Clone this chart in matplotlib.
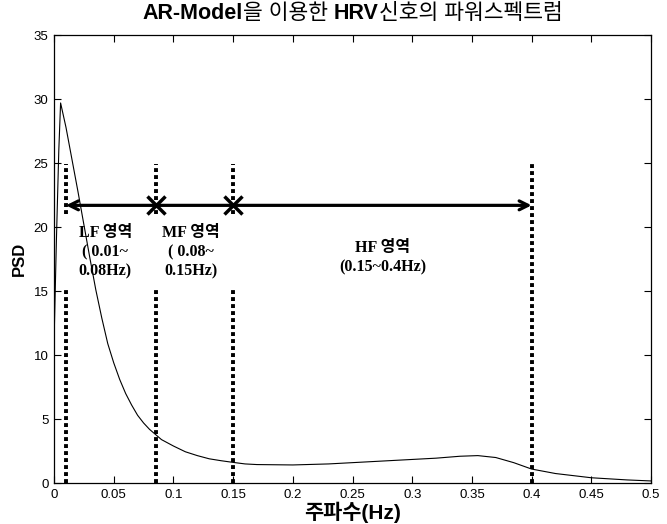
import matplotlib
matplotlib.use("Agg")
import matplotlib.pyplot as plt

# ---- data ----
freq = [0.0, 0.002, 0.004, 0.0055, 0.010, 0.015, 0.020, 0.025, 0.030, 0.035, 0.040,
        0.045, 0.050, 0.055, 0.060, 0.065, 0.070, 0.075, 0.080, 0.085, 0.090,
        0.100, 0.110, 0.120, 0.130, 0.140, 0.150, 0.160, 0.170, 0.200, 0.230,
        0.250, 0.280, 0.300, 0.320, 0.340, 0.355, 0.370, 0.385, 0.400, 0.420,
        0.450, 0.480, 0.500]
psd = [11.0, 19.0, 26.0, 29.7, 27.8, 25.3, 22.8, 20.2, 17.6, 15.1, 12.9,
       10.9, 9.4, 8.1, 7.0, 6.1, 5.3, 4.7, 4.2, 3.8, 3.4,
       2.9, 2.45, 2.15, 1.9, 1.75, 1.62, 1.5, 1.45, 1.42, 1.5,
       1.6, 1.75, 1.85, 1.95, 2.1, 2.15, 2.0, 1.6, 1.1, 0.75,
       0.42, 0.25, 0.17]

band_edges = [0.01, 0.085, 0.15, 0.4]
band_labels = ["LF 영역\n( 0.01~\n0.08Hz)", "MF 영역\n( 0.08~\n0.15Hz)", "HF 영역\n(0.15~0.4Hz)"]
xticks = [0, 0.05, 0.1, 0.15, 0.2, 0.25, 0.3, 0.35, 0.4, 0.45, 0.5]
xticklabels = ["0", "0.05", "0.1", "0.15", "0.2", "0.25", "0.3", "0.35", "0.4", "0.45", "0.5"]
yticks = [0, 5, 10, 15, 20, 25, 30, 35]
title_parts = [("AR-Model", "bold"), ("을 이용한 ", "normal"), ("HRV", "bold"),
               ("신호의 파워스펙트럼", "normal")]

sans = ["Liberation Sans", "Noto Sans CJK KR"]
serif = ["Liberation Serif", "Noto Sans CJK KR"]

fig = plt.figure(figsize=(6.67, 5.24), dpi=100)
ax = fig.add_axes([0.081, 0.078, 0.895, 0.855])

ax.plot(freq, psd, color="black", lw=0.8)

arrow_y = 21.7
top_y = 24.9
gap_lo, gap_hi = 15.3, 21.0
dot_kw = dict(color="black", lw=2.8, linestyle=(0, (1, 0.8)))
for i, xe in enumerate(band_edges):
    if i < 3:
        ax.plot([xe, xe], [0, gap_lo], **dot_kw)
        ax.plot([xe, xe], [gap_hi, top_y], **dot_kw)
    else:
        ax.plot([xe, xe], [0, top_y], **dot_kw)

ax.annotate("", xy=(band_edges[0], arrow_y), xytext=(band_edges[3], arrow_y),
            arrowprops=dict(arrowstyle="<->", lw=2.3, color="black", mutation_scale=16,
                            shrinkA=0, shrinkB=0))
ax.plot(band_edges[1:3], [arrow_y, arrow_y], "x", color="black", ms=13, mew=2.5)

lab_kw = dict(ha="center", va="top", family=serif, fontweight="bold", fontsize=11.5,
              linespacing=1.3)
ax.text(0.043, 20.2, band_labels[0], **lab_kw)
ax.text(0.115, 20.2, band_labels[1], **lab_kw)
ax.text(0.275, 19.0, band_labels[2], **lab_kw)

ax.set_xlim(0, 0.5)
ax.set_ylim(0, 35)
ax.set_xticks(xticks)
ax.set_xticklabels(xticklabels)
ax.set_yticks(yticks)
ax.tick_params(direction="in", length=5, width=0.8, top=True, right=True,
               labelsize=9.5, pad=4)
for lab in ax.get_xticklabels() + ax.get_yticklabels():
    lab.set_family(sans)
for s in ax.spines.values():
    s.set_linewidth(0.9)

ax.set_xlabel("주파수(Hz)", family=sans, fontweight="bold", fontsize=15, labelpad=1)
ax.set_ylabel("PSD", family=sans, fontweight="bold", fontsize=12, labelpad=5)

# title built from pieces with mixed weights
fig.canvas.draw()
renderer = fig.canvas.get_renderer()
texts = []
for s, w in title_parts:
    t = fig.text(0, 0.975, s, family=sans, fontweight=w, fontsize=15.5,
                 ha="left", va="center")
    texts.append(t)
widths = [t.get_window_extent(renderer).width for t in texts]
total = sum(widths)
axbox = ax.get_window_extent(renderer)
cx = (axbox.x0 + axbox.x1) / 2
x = cx - total / 2
W = fig.bbox.width
for t, w in zip(texts, widths):
    t.set_x(x / W)
    x += w

fig.savefig("out.png", dpi=100)
